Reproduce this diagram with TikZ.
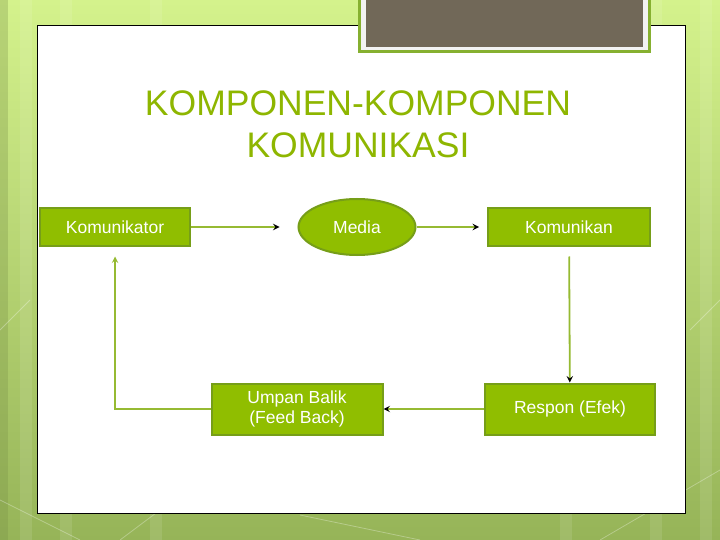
\documentclass[tikz,border=0pt]{standalone}
\usepackage{fontspec}
\setmainfont{Liberation Sans}
\usetikzlibrary{shapes.geometric,arrows}

\definecolor{bgtop}{RGB}{212,242,140}
\definecolor{bgbot}{RGB}{150,180,88}
\definecolor{boxfill}{RGB}{144,190,0}
\definecolor{boxline}{RGB}{118,158,24}
\definecolor{linkline}{RGB}{150,186,50}
\definecolor{titlegreen}{RGB}{142,182,0}
\definecolor{tabbrown}{RGB}{113,104,88}
\definecolor{tabgreen}{RGB}{134,176,48}

\tikzset{
    box/.style={rectangle, draw=boxline, line width=2pt, fill=boxfill,
        text=white, font=\fontsize{17.5}{20}\selectfont, align=center},
    oval/.style={ellipse, draw=boxline, line width=2pt, fill=boxfill,
        text=white, font=\fontsize{17.5}{20}\selectfont},
    link/.style={draw=linkline, line width=1.8pt}
}

\begin{document}
\begin{tikzpicture}[x=1pt,y=-1pt]
                \useasboundingbox (0,0) rectangle (720,540);
                \clip (0,0) rectangle (720,540);
                % slide background
                \shade[top color=bgtop, bottom color=bgbot] (0,0) rectangle (720,540);
                \fill[bgbot!80!black, opacity=0.3] (0,0) rectangle (8,540);
                \foreach \x in {20,60,150,560,650,700}
                    \fill[white, opacity=0.1] (\x,0) rectangle ++(12,540);
                \draw[white, opacity=0.3, line width=0.8pt]
                    (0,500) -- (80,540) (120,540) -- (240,450)
                    (300,515) -- (420,540) (600,540) -- (720,470)
                    (690,330) -- (720,300) (0,330) -- (30,300);
                \draw[black, line width=1pt, fill=white] (37,26) rectangle (685,513);
                % title tab
                \draw[tabgreen, line width=3pt, fill=white!95!black] (359,-4) rectangle (649,52);
                \fill[tabbrown] (366,-4) rectangle (643,47);
                % title
                \node (t1) at (358,103) {\fontsize{35.5}{40}\selectfont\color{titlegreen}KOMPONEN-KOMPONEN};
                \node (t2) at (358,145) {\fontsize{35.5}{40}\selectfont\color{titlegreen}KOMUNIKASI};
                % components
                \node[box, minimum width=150pt, minimum height=37pt] (komtor) at (115,227) {Komunikator};
                \node[oval, minimum width=117pt, minimum height=56pt] (media) at (357,227) {Media};
                \node[box, minimum width=162pt, minimum height=37pt] (komkan) at (569,227) {Komunikan};
                \node[box, minimum width=171pt, minimum height=51pt] (umpan) at (297,409) {Umpan Balik\\(Feed Back)};
                \node[box, minimum width=170pt, minimum height=51pt] (respon) at (570,409) {Respon (Efek)};
                \path[link, -stealth]
                (komtor) edge[shorten >=18pt] (media)
                (media)  edge[shorten >=8pt] (komkan)
                (komkan) edge[shorten <=10pt] (respon)
                (respon) edge (umpan);
                \draw[link, -stealth, shorten >=10pt] (umpan) -| (komtor);
            \end{tikzpicture}
\end{document}
